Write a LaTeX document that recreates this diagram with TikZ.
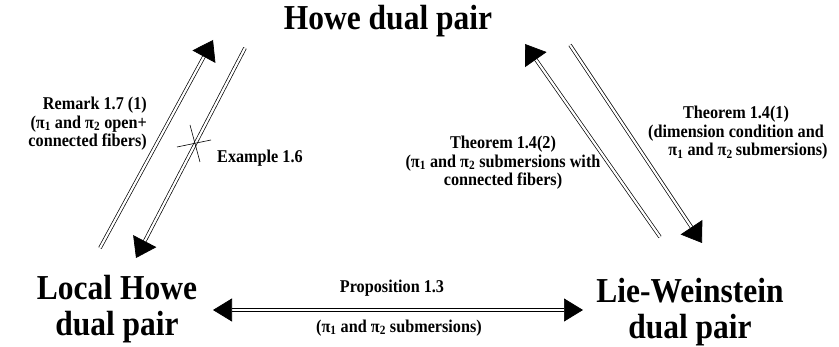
\documentclass[tikz,border=0pt]{standalone}
\usepackage{fontspec}
\setmainfont{Liberation Serif}
\newfontfamily\condfont[FakeStretch=0.9]{Liberation Serif}
\usetikzlibrary{arrows.meta,calc}
\tikzset{
  x=1pt, y=-1pt,
  big/.style={font=\condfont\fontsize{35}{36.5}\selectfont\bfseries, inner sep=0pt, align=center},
  small/.style={font=\condfont\fontsize{18}{18.5}\selectfont\bfseries, inner sep=0pt},
  darrow/.style={double, double distance=2.2pt, line width=0.7pt},
  cross/.style={line width=0.6pt}
}
\begin{document}
\begin{tikzpicture}
\useasboundingbox (0,0) rectangle (839,347);
% main labels
\node[big, anchor=base] (howe) at (388,30) {Howe dual pair};
\node[big] (local) at (117,309) {Local Howe\\dual pair};
\node[big] (lw) at (690,312) {Lie-Weinstein\\dual pair};
% arrow endpoints
\coordinate (a1s) at (100,248);
\coordinate (a1e) at (213,40);
\coordinate (a2s) at (245,48);
\coordinate (a2e) at (136,258);
\coordinate (a3s) at (660,237);
\coordinate (a3e) at (525,44);
\coordinate (a4s) at (570,45);
\coordinate (a4e) at (702,243);
\coordinate (h1) at (213,310);
\coordinate (h2) at (583,310);
% connectors
\draw[darrow, -{Triangle[length=19pt,width=26pt]}] (a1s) -- (a1e);
\draw[darrow, -{Triangle[length=19pt,width=26pt]}] (a2s) -- (a2e);
\draw[darrow, -{Triangle[length=19pt,width=26pt]}] (a3s) -- (a3e);
\draw[darrow, -{Triangle[length=19pt,width=26pt]}] (a4s) -- (a4e);
\draw[darrow, {Triangle[length=19pt,width=23pt]}-{Triangle[length=19pt,width=23pt]}] (h1) -- (h2);
% cross on example arrow
\coordinate (cx) at (195,143);
\draw[cross] ($(cx)+(-18,4)$) -- ($(cx)+(16,-3)$);
\draw[cross] ($(cx)+(-5,-18)$) -- ($(cx)+(5,19)$);
% labels
\node[small, align=right, anchor=east] (rem) at (147,124) {Remark 1.7 (1)\\(π\textsubscript{1} and π\textsubscript{2} open+\\connected fibers)};
\node[small, anchor=west] (ex) at (217,158) {Example 1.6};
\node[small, align=center] (t2) at (503,163) {Theorem 1.4(2)\\(π\textsubscript{1} and π\textsubscript{2} submersions with\\connected fibers)};
\node[small, align=center] (t1) at (736,133) {Theorem 1.4(1)\\(dimension condition and\\\hspace*{24pt}π\textsubscript{1} and π\textsubscript{2}\,submersions)};
\node[small] (prop) at (392,288) {Proposition 1.3};
\node[small] (sub) at (399,328) {(π\textsubscript{1} and π\textsubscript{2} submersions)};
\end{tikzpicture}
\end{document}
